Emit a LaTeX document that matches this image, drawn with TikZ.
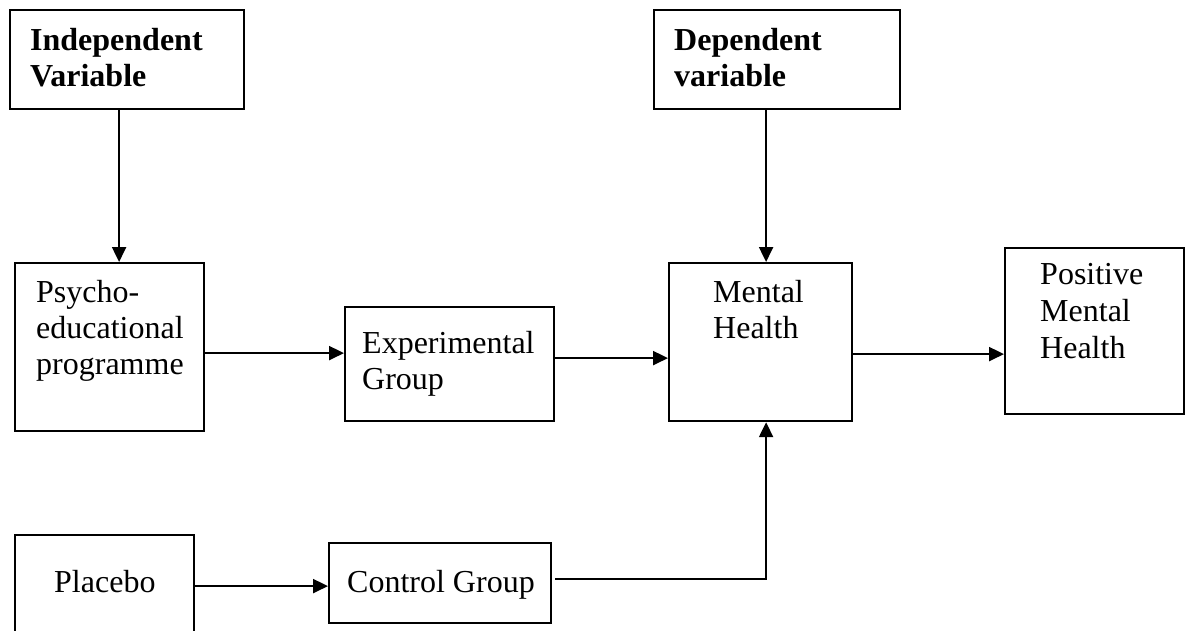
\documentclass[tikz,border=0pt]{standalone}
\usepackage{fontspec}
\setmainfont{Liberation Serif}
\usetikzlibrary{arrows.meta,positioning,calc}

\begin{document}
\begin{tikzpicture}[
    x=1pt, y=-1pt,
    node distance=20pt and 20pt,
    box/.style={rectangle, draw, line width=2.2pt, inner sep=0pt, anchor=north west},
    txt/.style={anchor=north west, inner sep=0pt, align=left, font=\fontsize{32}{36}\selectfont},
    head/.style={txt, font=\fontsize{32}{36}\selectfont\bfseries},
    arrow/.style={-{Triangle[length=15pt,width=14pt]}, line width=2.2pt}
]
\useasboundingbox (0,0) rectangle (1187,630);

% Variable boxes (top row)
\node[box, minimum width=234, minimum height=99] (iv) at (9,9) {};
\node[box, minimum width=246, minimum height=99] (dv) at (653,9) {};

% Main chain
\node[box, minimum width=189, minimum height=168] (psy) at (14,262) {};
\node[box, minimum width=209, minimum height=114] (exp) at (344,306) {};
\node[box, minimum width=183, minimum height=158] (mh) at (668,262) {};
\node[box, minimum width=179, minimum height=166] (pmh) at (1004,247) {};

% Control chain (bottom row)
\node[box, minimum width=179, minimum height=120] (plc) at (14,534) {};
\node[box, minimum width=222, minimum height=80] (ctl) at (328,542) {};

% Box texts
\node[head, below right=19pt and 21pt of iv.north west] (ivtxt) {Independent\\Variable};
\node[head, below right=19pt and 21pt of dv.north west] (dvtxt) {Dependent\\variable};
\node[txt, below right=18pt and 22pt of psy.north west] (psytxt) {Psycho-\\educational\\programme};
\node[txt, below right=25pt and 18pt of exp.north west] (exptxt) {Experimental\\Group};
\node[txt, below right=18pt and 45pt of mh.north west] (mhtxt) {Mental\\Health};
\node[txt, below right=16pt and 36pt of pmh.north west, font=\fontsize{32}{37}\selectfont] (pmhtxt) {Positive\\Mental\\Health};
\node[txt, below right=36pt and 40pt of plc.north west] (plctxt) {Placebo};
\node[txt, below right=28pt and 19pt of ctl.north west] (ctltxt) {Control Group};

% Arrows
\draw[arrow] ([xshift=-8pt]iv.south) -- ([xshift=-8pt]iv.south |- psy.north);
\draw[arrow] ([xshift=-11pt]dv.south) -- ([xshift=-11pt]dv.south |- mh.north);
\draw[arrow] ([yshift=-6pt]psy.east) -- ([yshift=-6pt]psy.east -| exp.west);
\draw[arrow] ([yshift=6pt]exp.east) -- ([yshift=6pt]exp.east -| mh.west);
\draw[arrow] ([yshift=-12pt]mh.east) -- ([yshift=-12pt]mh.east -| pmh.west);
\draw[arrow] ([yshift=-3pt]ctl.west -| plc.east) -- ([yshift=-3pt]ctl.west);
\draw[arrow] ([xshift=3pt,yshift=4pt]ctl.east) -| ([xshift=5.5pt]mh.south);

\end{tikzpicture}
\end{document}
